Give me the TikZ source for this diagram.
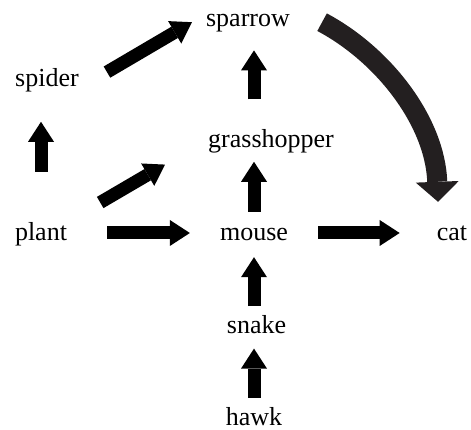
\documentclass[tikz,border=0pt]{standalone}
\usepackage{fontspec}
\setmainfont{Liberation Serif}
\usetikzlibrary{positioning,arrows.meta}
\definecolor{curvegray}{RGB}{35,31,32}
\tikzset{animal/.style={inner sep=0pt,text height=18pt,text depth=6pt,font=\fontsize{26}{30}\selectfont}}
\tikzset{eats/.style={->,line width=13pt}}
\tikzset{node distance=68pt}
\tikzset{>={Triangle[width=26pt,length=20pt,line width=0pt]}}

\begin{document}
\begin{tikzpicture}[x=1pt,y=1pt]
    \useasboundingbox (0,0) rectangle (471,430);

    \node (mouse) [animal] at (254,195) {mouse};
    \node (snake) [animal,below=of mouse,xshift=2.5pt] {snake};
    \node (hawk) [animal,below=of snake,xshift=-2.5pt] {hawk};
    \node (grasshopper) [animal,above=69pt of mouse,xshift=17pt] {grasshopper};
    \node (sparrow) [animal,above=97pt of grasshopper,xshift=-23pt] {sparrow};
    \node (plant) [animal] at (41,195) {plant};
    \node (cat) [animal] at (452,195) {cat};
    \node (spider) [animal,above=130pt of plant,xshift=6pt] {spider};

    \draw [eats,shorten <=10pt,shorten >=9pt] (hawk.north) -- (hawk.north |- snake.south);
    \draw [eats,shorten <=9pt,shorten >=10pt] (mouse.south |- snake.north) -- (mouse.south);
    \draw [eats,shorten <=11pt,shorten >=8pt] (mouse.north) -- (mouse.north |- grasshopper.south);
    \draw [eats,shorten <=30pt,shorten >=18pt] (mouse |- grasshopper.north) -- (mouse |- sparrow.south);
    \draw [eats,shorten <=51pt,shorten >=29pt] (plant.north) -- (plant.north |- spider.south);

    \draw [eats,shorten <=40pt,shorten >=30pt] ([yshift=2pt]plant.east) -- ([yshift=2pt]mouse.west);
    \draw [eats,shorten <=30pt,shorten >=37pt] ([yshift=2pt]mouse.east) -- ([yshift=2pt]cat.west);

    \draw [eats] ([shift={(28,8.5)}]spider.east) -- ([shift={(-14,-2)}]sparrow.west);
    \draw [eats] ([shift={(33,32.5)}]plant.east) -- ([shift={(-43,-23)}]grasshopper.west);

    \draw [eats,curvegray,line width=20pt,-{Triangle[width=43pt,length=20pt,line width=0pt]}] ([shift={(32,-2)}]sparrow.east)
        .. controls +(62,-33) and +(-3,80) .. ([shift={(-14,21)}]cat.north);
\end{tikzpicture}
\end{document}
